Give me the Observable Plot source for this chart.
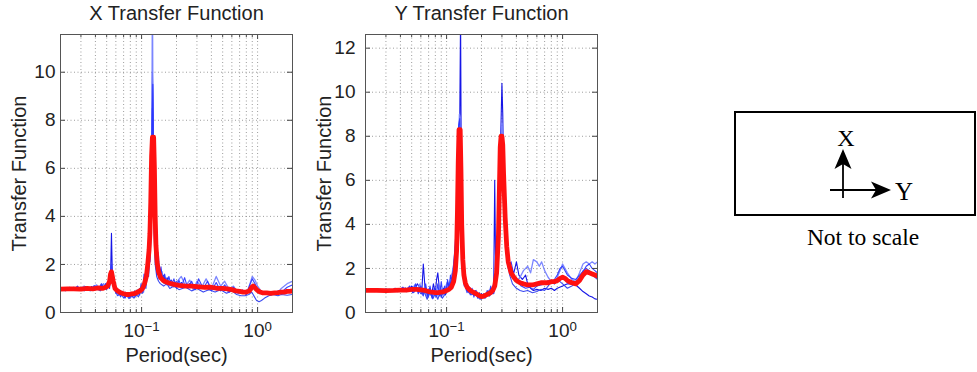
<!DOCTYPE html>
<html><head><meta charset="utf-8">
<script src="https://cdn.jsdelivr.net/npm/d3@7"></script>
<script src="https://cdn.jsdelivr.net/npm/@observablehq/plot@0.6"></script>
<style>
body{margin:0;background:#fff;}
#wrap{position:relative;width:977px;height:372px;overflow:hidden;background:#fff;font-family:"Liberation Sans",Arial,sans-serif;}
#wrap > svg{position:absolute;top:0;}
</style></head><body><div id="wrap"></div>
<script>
// ---------- X transfer function: [period (s), value] ----------
const xBlue1 = [[0.02,0.97],[0.022,1.02],[0.025,0.95],[0.027,1.0],[0.029,1.02],[0.031,0.98],[0.033,1.05],[0.035,0.97],[0.037,1.08],[0.039,1.0],[0.041,1.12],[0.043,0.98],[0.045,1.15],[0.047,1.02],[0.049,1.2],[0.051,1.05],[0.053,1.3],[0.054,1.45],[0.055,3.3],[0.056,1.5],[0.057,1.25],[0.059,1.1],[0.061,0.95],[0.063,0.82],[0.066,0.9],[0.069,0.75],[0.072,0.85],[0.075,0.7],[0.078,0.8],[0.081,0.68],[0.084,0.82],[0.087,0.72],[0.09,0.9],[0.093,0.78],[0.096,1.0],[0.099,0.9],[0.102,1.15],[0.105,1.05],[0.108,1.5],[0.11,1.3],[0.112,1.9],[0.114,1.6],[0.116,2.4],[0.118,2.1],[0.12,3.0],[0.122,6.5],[0.124,10.0],[0.126,8.2],[0.128,5.0],[0.13,3.2],[0.133,2.2],[0.137,2.0],[0.14,1.6],[0.146,1.8],[0.15,1.4],[0.155,1.55],[0.16,1.3],[0.166,1.45],[0.172,1.2],[0.18,1.35],[0.19,1.15],[0.2,1.3],[0.21,1.1],[0.22,1.25],[0.24,1.05],[0.26,1.2],[0.28,1.0],[0.3,1.15],[0.32,1.0],[0.35,1.1],[0.38,0.95],[0.41,1.1],[0.45,0.95],[0.5,1.05],[0.55,0.9],[0.6,0.95],[0.65,0.85],[0.7,0.9],[0.75,0.8],[0.8,0.85],[0.85,0.95],[0.9,1.15],[0.95,1.05],[1.0,0.9],[1.05,0.85],[1.1,0.8],[1.2,0.85],[1.3,0.8],[1.4,0.85],[1.5,0.82],[1.6,0.9],[1.7,0.85],[1.8,0.95],[1.9,0.9],[2.0,0.95]];
const xBlue2 = [[0.02,1.0],[0.023,0.96],[0.026,1.05],[0.029,0.95],[0.032,1.1],[0.035,0.98],[0.038,1.05],[0.041,1.15],[0.044,0.95],[0.047,1.2],[0.05,1.05],[0.052,1.35],[0.054,1.6],[0.056,1.3],[0.058,1.0],[0.061,0.85],[0.064,0.7],[0.068,0.88],[0.072,0.62],[0.076,0.78],[0.08,0.6],[0.084,0.75],[0.088,0.65],[0.092,0.85],[0.096,0.72],[0.1,1.0],[0.104,0.85],[0.107,1.6],[0.11,1.2],[0.112,2.2],[0.114,1.8],[0.117,2.6],[0.119,3.8],[0.121,5.5],[0.123,9.0],[0.124,14],[0.125,9.5],[0.127,4.2],[0.13,2.6],[0.134,1.8],[0.139,2.5],[0.144,1.5],[0.15,1.7],[0.156,1.2],[0.163,1.4],[0.172,1.1],[0.181,1.3],[0.19,1.05],[0.2,1.25],[0.22,1.5],[0.24,1.1],[0.26,1.35],[0.28,0.95],[0.3,1.3],[0.33,1.05],[0.36,1.4],[0.4,1.0],[0.44,1.5],[0.48,1.1],[0.52,1.3],[0.57,0.95],[0.62,1.1],[0.68,0.8],[0.74,0.95],[0.8,0.75],[0.86,1.2],[0.9,1.5],[0.95,1.35],[1.0,1.1],[1.05,0.95],[1.1,0.75],[1.2,0.8],[1.3,0.72],[1.4,0.8],[1.5,0.85],[1.6,1.0],[1.7,1.1],[1.8,1.2],[1.9,1.25],[2.0,1.3]];
const xBlue3 = [[0.02,0.93],[0.023,1.02],[0.026,0.92],[0.029,1.0],[0.032,0.9],[0.035,1.02],[0.038,0.92],[0.041,1.0],[0.044,0.9],[0.047,1.05],[0.05,0.95],[0.052,1.2],[0.054,1.4],[0.057,1.1],[0.059,0.95],[0.062,0.7],[0.066,0.8],[0.07,0.6],[0.074,0.72],[0.078,0.58],[0.082,0.7],[0.086,0.6],[0.09,0.75],[0.094,0.65],[0.098,0.9],[0.102,0.8],[0.106,1.2],[0.109,1.0],[0.112,1.6],[0.115,1.5],[0.118,2.4],[0.12,4.0],[0.122,6.0],[0.124,8.5],[0.126,6.0],[0.128,3.5],[0.131,2.0],[0.135,1.5],[0.14,1.3],[0.145,1.2],[0.155,1.1],[0.165,1.2],[0.175,1.0],[0.19,1.1],[0.21,0.95],[0.24,1.05],[0.27,0.9],[0.3,1.0],[0.34,0.85],[0.38,0.95],[0.43,0.85],[0.48,0.95],[0.54,0.8],[0.6,0.9],[0.66,0.75],[0.72,0.7],[0.78,0.7],[0.84,0.75],[0.89,0.85],[0.94,0.65],[0.98,0.5],[1.03,0.45],[1.08,0.5],[1.15,0.6],[1.25,0.7],[1.35,0.75],[1.5,0.7],[1.6,0.75],[1.8,0.72],[2.0,0.75]];
const xBlue4 = [[0.02,1.0],[0.022,0.9],[0.024,1.05],[0.026,0.95],[0.028,1.1],[0.03,0.92],[0.033,1.08],[0.036,0.9],[0.039,1.12],[0.042,0.95],[0.045,1.2],[0.048,1.0],[0.051,1.25],[0.053,1.0],[0.055,2.0],[0.057,1.2],[0.06,0.8],[0.063,0.95],[0.066,0.65],[0.069,0.85],[0.072,0.6],[0.075,0.8],[0.078,0.62],[0.081,0.85],[0.084,0.65],[0.087,0.9],[0.09,0.7],[0.093,0.95],[0.096,0.75],[0.099,1.2],[0.102,0.9],[0.105,1.6],[0.108,1.2],[0.111,2.1],[0.114,1.5],[0.117,2.6],[0.119,3.2],[0.121,5.0],[0.123,7.5],[0.125,9.5],[0.127,6.0],[0.129,3.8],[0.132,2.8],[0.135,1.6],[0.138,2.2],[0.142,1.4],[0.147,1.9],[0.152,1.3],[0.158,1.6],[0.165,1.15],[0.172,1.5],[0.18,1.1],[0.19,1.4],[0.2,1.0],[0.21,1.35],[0.22,1.05],[0.235,1.45],[0.25,1.0],[0.27,1.3],[0.29,0.95],[0.31,1.4],[0.34,1.0],[0.37,1.3],[0.4,0.9],[0.44,1.25],[0.48,0.9],[0.52,1.15],[0.57,0.85],[0.62,1.05],[0.68,0.8],[0.74,0.9],[0.8,0.75],[0.85,1.1],[0.9,1.4],[0.95,1.2],[1.0,0.95],[1.05,0.8],[1.1,0.85],[1.2,0.75],[1.3,0.85],[1.4,0.8],[1.5,0.9],[1.6,0.85],[1.7,0.95],[1.8,1.05],[1.9,1.1],[2.0,1.15]];
const xRed = [[0.02,0.97],[0.023,0.98],[0.026,0.98],[0.03,0.97],[0.034,1.0],[0.038,0.98],[0.042,1.02],[0.046,1.0],[0.049,1.05],[0.051,1.1],[0.053,1.3],[0.054,1.6],[0.055,1.7],[0.057,1.3],[0.059,1.0],[0.062,0.9],[0.066,0.82],[0.07,0.78],[0.074,0.75],[0.078,0.75],[0.083,0.78],[0.088,0.8],[0.093,0.85],[0.098,0.92],[0.102,1.0],[0.106,1.2],[0.11,1.5],[0.113,2.0],[0.116,2.6],[0.118,3.3],[0.12,4.6],[0.122,6.5],[0.124,7.3],[0.127,7.3],[0.129,6.0],[0.131,4.0],[0.133,2.8],[0.136,2.1],[0.14,1.7],[0.146,1.45],[0.155,1.32],[0.165,1.26],[0.175,1.22],[0.19,1.17],[0.21,1.13],[0.24,1.1],[0.27,1.1],[0.3,1.08],[0.35,1.05],[0.4,1.05],[0.45,1.0],[0.5,1.0],[0.55,0.98],[0.6,0.95],[0.65,0.9],[0.7,0.88],[0.75,0.85],[0.8,0.85],[0.85,0.9],[0.89,1.05],[0.92,1.1],[0.96,1.0],[1.0,0.92],[1.05,0.85],[1.1,0.82],[1.2,0.82],[1.3,0.8],[1.4,0.82],[1.5,0.83],[1.6,0.85],[1.7,0.85],[1.8,0.88],[1.9,0.88],[2.0,0.9]];

// ---------- Y transfer function ----------
const yBlue1 = [[0.02,1.0],[0.023,0.95],[0.026,1.02],[0.029,0.96],[0.032,1.05],[0.035,0.98],[0.038,1.08],[0.041,1.0],[0.044,1.12],[0.047,0.98],[0.05,1.2],[0.053,1.05],[0.056,1.3],[0.059,1.1],[0.061,0.85],[0.063,2.2],[0.065,1.2],[0.068,0.8],[0.071,1.1],[0.074,0.75],[0.077,1.3],[0.08,0.9],[0.082,1.5],[0.084,1.8],[0.087,1.0],[0.09,0.7],[0.094,1.1],[0.098,0.8],[0.102,1.4],[0.106,1.1],[0.11,1.6],[0.114,1.9],[0.118,2.6],[0.121,3.5],[0.124,5.0],[0.127,8.0],[0.13,9.0],[0.132,13.5],[0.134,6.0],[0.137,3.0],[0.14,2.0],[0.145,1.4],[0.15,1.2],[0.155,0.95],[0.16,1.1],[0.17,0.8],[0.18,0.95],[0.19,0.7],[0.2,0.85],[0.21,0.65],[0.22,0.9],[0.23,0.8],[0.24,1.1],[0.25,0.9],[0.255,1.3],[0.26,6.0],[0.265,2.0],[0.27,2.2],[0.28,4.0],[0.29,7.0],[0.3,10.4],[0.305,9.0],[0.31,6.5],[0.32,4.2],[0.33,3.0],[0.34,2.4],[0.36,2.0],[0.38,1.8],[0.4,2.3],[0.42,1.7],[0.45,1.5],[0.48,1.7],[0.5,1.3],[0.53,1.1],[0.56,1.0],[0.6,1.05],[0.65,1.0],[0.7,1.1],[0.75,1.05],[0.8,1.1],[0.85,1.0],[0.9,1.1],[1.0,1.2],[1.1,1.3],[1.2,1.3],[1.3,1.25],[1.4,1.1],[1.5,0.95],[1.6,0.85],[1.7,0.75],[1.8,0.7],[1.9,0.62],[2.0,0.6]];
const yBlue2 = [[0.02,1.02],[0.023,0.98],[0.026,1.05],[0.029,0.95],[0.032,1.0],[0.035,1.05],[0.038,0.95],[0.041,1.1],[0.044,0.98],[0.047,1.15],[0.05,1.0],[0.053,1.25],[0.056,1.05],[0.059,1.3],[0.062,0.8],[0.065,1.0],[0.068,0.7],[0.072,1.1],[0.076,0.65],[0.08,1.0],[0.084,0.75],[0.088,1.2],[0.092,0.8],[0.096,1.0],[0.1,1.3],[0.104,1.1],[0.108,1.5],[0.112,1.8],[0.116,2.3],[0.12,3.2],[0.123,4.8],[0.126,7.0],[0.129,9.0],[0.131,8.8],[0.133,5.0],[0.136,2.6],[0.14,1.7],[0.145,1.3],[0.15,1.0],[0.16,1.1],[0.17,0.85],[0.18,1.0],[0.19,0.75],[0.2,0.7],[0.21,0.8],[0.22,0.75],[0.23,1.0],[0.24,0.85],[0.25,1.2],[0.26,1.3],[0.27,2.0],[0.28,3.8],[0.29,6.5],[0.3,8.6],[0.31,7.5],[0.32,5.0],[0.33,3.2],[0.34,2.3],[0.36,1.8],[0.38,1.6],[0.4,1.4],[0.43,1.6],[0.46,1.9],[0.5,2.1],[0.53,1.8],[0.56,2.4],[0.6,2.3],[0.63,2.1],[0.66,2.3],[0.7,1.9],[0.75,1.6],[0.8,1.4],[0.85,1.3],[0.9,1.6],[0.95,1.9],[1.0,2.2],[1.05,2.0],[1.1,1.8],[1.2,1.5],[1.3,1.4],[1.4,1.8],[1.5,2.2],[1.6,2.3],[1.7,2.2],[1.8,2.3],[1.9,2.2],[2.0,2.3]];
const yBlue3 = [[0.02,0.97],[0.024,1.0],[0.028,0.95],[0.032,1.02],[0.036,0.96],[0.04,1.03],[0.044,0.95],[0.048,1.05],[0.052,0.9],[0.056,1.1],[0.06,0.85],[0.064,0.95],[0.068,0.6],[0.072,0.9],[0.076,0.62],[0.08,0.85],[0.084,0.6],[0.088,0.9],[0.092,0.65],[0.096,0.8],[0.1,1.0],[0.104,1.15],[0.108,1.3],[0.112,1.55],[0.116,2.0],[0.12,2.8],[0.123,4.2],[0.126,6.2],[0.129,8.0],[0.131,7.5],[0.134,4.0],[0.137,2.2],[0.141,1.4],[0.148,1.0],[0.155,0.9],[0.165,0.8],[0.175,0.9],[0.185,0.7],[0.195,0.6],[0.205,0.75],[0.215,0.65],[0.225,0.8],[0.235,0.75],[0.245,0.9],[0.255,0.85],[0.265,1.3],[0.275,2.5],[0.285,4.8],[0.295,7.2],[0.305,7.8],[0.315,5.5],[0.325,3.5],[0.335,2.4],[0.35,1.7],[0.37,1.3],[0.4,1.1],[0.43,1.0],[0.46,0.95],[0.5,1.0],[0.55,0.9],[0.6,0.95],[0.65,1.05],[0.7,1.0],[0.75,1.2],[0.8,1.4],[0.85,1.3],[0.9,1.5],[0.95,1.4],[1.0,1.3],[1.1,1.1],[1.2,1.2],[1.3,1.3],[1.4,1.6],[1.5,1.9],[1.6,2.0],[1.7,1.9],[1.8,1.7],[1.9,1.6],[2.0,1.5]];
const yBlue4 = [[0.02,0.98],[0.022,1.05],[0.024,0.95],[0.026,1.06],[0.028,0.96],[0.03,1.08],[0.033,0.95],[0.036,1.1],[0.039,0.97],[0.042,1.15],[0.045,0.95],[0.048,1.2],[0.051,0.9],[0.054,1.3],[0.057,0.85],[0.06,1.2],[0.063,0.75],[0.066,1.3],[0.069,0.7],[0.072,1.2],[0.075,0.65],[0.078,1.1],[0.081,0.7],[0.084,1.3],[0.087,0.75],[0.09,1.4],[0.093,0.8],[0.096,1.2],[0.099,0.9],[0.102,1.5],[0.105,1.0],[0.108,1.7],[0.112,1.4],[0.116,2.4],[0.12,3.5],[0.124,6.0],[0.127,8.5],[0.13,8.8],[0.132,6.5],[0.135,3.0],[0.138,1.8],[0.142,1.2],[0.146,1.4],[0.15,0.9],[0.155,1.2],[0.16,0.8],[0.166,1.1],[0.172,0.7],[0.178,1.0],[0.185,0.65],[0.192,0.9],[0.2,0.6],[0.208,0.85],[0.216,0.7],[0.224,1.0],[0.232,0.75],[0.24,1.2],[0.248,0.85],[0.255,1.4],[0.262,1.2],[0.27,1.9],[0.28,3.2],[0.29,5.5],[0.3,7.8],[0.31,7.0],[0.32,4.8],[0.33,3.0],[0.34,2.0],[0.36,2.3],[0.38,1.7],[0.41,1.4],[0.44,1.2],[0.48,1.1],[0.52,1.15],[0.56,1.05],[0.6,1.2],[0.65,1.25],[0.7,1.3],[0.75,1.45],[0.8,1.35],[0.85,1.5],[0.9,1.7],[0.95,2.0],[1.0,2.1],[1.05,1.9],[1.1,1.7],[1.2,1.55],[1.3,1.5],[1.4,1.7],[1.5,1.85],[1.6,2.1],[1.7,2.2],[1.8,2.0],[1.9,1.9],[2.0,1.8]];
const yRed = [[0.02,1.0],[0.025,1.0],[0.03,0.99],[0.035,1.0],[0.04,1.02],[0.045,1.02],[0.05,1.05],[0.055,1.05],[0.06,1.03],[0.065,1.0],[0.07,0.95],[0.075,0.92],[0.08,0.9],[0.085,0.9],[0.09,0.93],[0.095,0.95],[0.1,1.0],[0.105,1.05],[0.11,1.15],[0.115,1.4],[0.119,1.9],[0.122,2.8],[0.124,4.5],[0.126,6.8],[0.128,8.3],[0.131,8.3],[0.133,6.5],[0.135,4.0],[0.138,2.4],[0.141,1.7],[0.145,1.35],[0.15,1.15],[0.16,1.0],[0.17,0.92],[0.18,0.85],[0.19,0.78],[0.2,0.72],[0.21,0.75],[0.22,0.8],[0.23,0.85],[0.24,0.9],[0.25,1.0],[0.26,1.2],[0.27,1.8],[0.28,3.5],[0.285,5.5],[0.29,7.5],[0.295,8.0],[0.3,8.0],[0.305,7.6],[0.31,6.3],[0.32,4.3],[0.33,3.0],[0.34,2.3],[0.36,1.8],[0.38,1.6],[0.4,1.45],[0.43,1.35],[0.46,1.3],[0.5,1.25],[0.55,1.25],[0.6,1.3],[0.65,1.35],[0.7,1.35],[0.75,1.35],[0.8,1.4],[0.85,1.4],[0.9,1.45],[0.95,1.55],[1.0,1.6],[1.05,1.55],[1.1,1.45],[1.2,1.35],[1.3,1.3],[1.4,1.45],[1.5,1.7],[1.6,1.85],[1.7,1.8],[1.8,1.75],[1.9,1.7],[2.0,1.65]];

// ---------- ticks & labels ----------
const majorX = [0.1, 1];
const minorX = [0.02,0.03,0.04,0.05,0.06,0.07,0.08,0.09,0.2,0.3,0.4,0.5,0.6,0.7,0.8,0.9,2];
const xTickLabels = ["10^-1", "10^0"];
const yTicksX = [0,2,4,6,8,10];
const yTicksY = [0,2,4,6,8,10,12];
const titles = ["X Transfer Function", "Y Transfer Function"];
const xLabel = "Period(sec)";
const yLabel = "Transfer Function";
const sketchLabels = ["X", "Y", "Not to scale"];

const wrap = document.getElementById("wrap");
const FONT = "'Liberation Sans', Arial, Helvetica, sans-serif";
const blueColors = ["#0a0ae6", "#7480ff", "#3040f0", "#2a36ff"];

function panel({title, blues, red, yMax, yTicks, left, yPad}) {
  const W = 300, H = 372, mL = 60, mT = 34, mB = 60, frameW = 232;
  const mR = W - mL - frameW;
  const innerH = H - mT - mB;
  const px = d => d[0], py = d => d[1];
  const chart = Plot.plot({
    width: W, height: H,
    marginLeft: mL, marginRight: mR, marginTop: mT, marginBottom: mB,
    style: {fontFamily: FONT, fontSize: "18px", color: "#222", background: "transparent", overflow: "visible"},
    x: {type: "log", domain: [0.02, 2]},
    y: {domain: [0, yMax]},
    marks: [
      Plot.gridX([...minorX, ...majorX], {stroke: "#777", strokeOpacity: 0.9, strokeDasharray: "1,2.5", strokeWidth: 0.8}),
      Plot.gridY(yTicks, {stroke: "#777", strokeOpacity: 0.9, strokeDasharray: "1,2.5", strokeWidth: 0.8}),
      ...blues.map((b, i) => Plot.line(b, {x: px, y: py, clip: true,
        stroke: blueColors[i], strokeWidth: i === 1 ? 1.3 : 1.1, strokeOpacity: 0.95})),
      Plot.line(red, {x: px, y: py, clip: true, stroke: "#ff1010", strokeWidth: 4.8, strokeLinejoin: "round"}),
      Plot.tickX(majorX, {x: d => d, insetTop: innerH - 5, stroke: "#444"}),
      Plot.tickX(majorX, {x: d => d, insetBottom: innerH - 5, stroke: "#444"}),
      Plot.tickX(minorX, {x: d => d, insetTop: innerH - 3, stroke: "#444"}),
      Plot.tickX(minorX, {x: d => d, insetBottom: innerH - 3, stroke: "#444"}),
      Plot.tickY(yTicks, {y: d => d, insetRight: frameW - 5, stroke: "#444"}),
      Plot.tickY(yTicks, {y: d => d, insetLeft: frameW - 5, stroke: "#444"}),
      Plot.frame({stroke: "#555", strokeWidth: 1}),
      Plot.axisX(majorX, {tickSize: 0, tickPadding: 11, fontSize: 19,
        tickFormat: d => xTickLabels[majorX.indexOf(d)]}),
      Plot.axisY(yTicks, {tickSize: 0, tickPadding: yPad, fontSize: 19}),
      Plot.text([title], {text: d => d, frameAnchor: "top", dy: -21, fontSize: 20, lineAnchor: "middle"}),
      Plot.text([xLabel], {text: d => d, frameAnchor: "bottom", dy: 43, fontSize: 20, lineAnchor: "middle"}),
      Plot.text([yLabel], {text: d => d, frameAnchor: "left", dx: -41, rotate: -90, textAnchor: "middle", lineAnchor: "middle", fontSize: 20})
    ]
  });
  // superscript exponents on the log tick labels
  d3.select(chart).selectAll('[aria-label="x-axis tick label"] text').each(function() {
    const t = d3.select(this);
    const parts = t.text().split("^");
    if (parts.length === 2) {
      t.text(parts[0]);
      t.append("tspan").attr("dy", "-0.45em").attr("font-size", "0.7em").text(parts[1].replace("-", "\u2212"));
    }
  });
  chart.style.left = left + "px";
  wrap.appendChild(chart);
}

panel({title: titles[0], blues: [xBlue1, xBlue2, xBlue3, xBlue4], red: xRed, yMax: 11.57, yTicks: yTicksX, left: 0, yPad: 5});
panel({title: titles[1], blues: [yBlue1, yBlue2, yBlue3, yBlue4], red: yRed, yMax: 12.62, yTicks: yTicksY, left: 305, yPad: 10});

// ---------- orientation sketch ----------
const svg = d3.select(wrap).append("svg").attr("width", 977).attr("height", 372).style("left", "0px");
svg.append("rect").attr("x", 735).attr("y", 112).attr("width", 240).attr("height", 103)
  .attr("fill", "none").attr("stroke", "#000").attr("stroke-width", 2);
svg.append("line").attr("x1", 843).attr("y1", 198).attr("x2", 843).attr("y2", 164)
  .attr("stroke", "#000").attr("stroke-width", 1.8);
svg.append("path").attr("d", "M843,149 L851.5,169 L843,164 L834.5,169 Z").attr("fill", "#000");
svg.append("line").attr("x1", 830).attr("y1", 190).attr("x2", 876).attr("y2", 190)
  .attr("stroke", "#000").attr("stroke-width", 1.8);
svg.append("path").attr("d", "M891,190 L871,181.5 L876,190 L871,198.5 Z").attr("fill", "#000");
const serif = "'Liberation Serif', 'Times New Roman', Times, serif";
svg.append("text").attr("x", 846).attr("y", 146).attr("text-anchor", "middle").attr("font-family", serif).attr("font-size", 24).text(sketchLabels[0]);
svg.append("text").attr("x", 904).attr("y", 200).attr("text-anchor", "middle").attr("font-family", serif).attr("font-size", 25).text(sketchLabels[1]);
svg.append("text").attr("x", 863).attr("y", 245).attr("text-anchor", "middle").attr("font-family", serif).attr("font-size", 23.5).text(sketchLabels[2]);
</script>
</body></html>
